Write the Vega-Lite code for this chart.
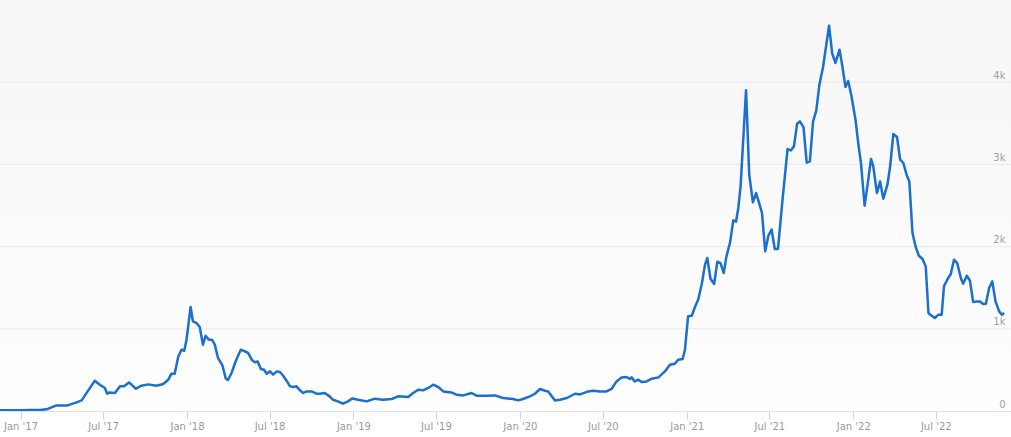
{
  "$schema": "https://vega.github.io/schema/vega-lite/v6.json",
  "width": 1011,
  "height": 411,
  "autosize": "none",
  "padding": {"left": 0, "top": 0, "right": 0, "bottom": 26},
  "background": "#ffffff",
  "config": {"view": {"stroke": null}, "font": "DejaVu Sans"},
  "layer": [
    {
      "data": {"values": [{}]},
      "mark": {"type": "rect", "color": {"gradient": "linear", "x1": 0, "y1": 0, "x2": 0, "y2": 1, "stops": [{"offset": 0, "color": "#f6f6f6"}, {"offset": 1, "color": "#fefefe"}]}},
      "encoding": {}
    },
    {
      "data": {"values": [{"level": 1000}, {"level": 2000}, {"level": 3000}, {"level": 4000}]},
      "mark": {"type": "rule", "color": "#e6e9ef", "strokeWidth": 1},
      "encoding": {
        "y": {"field": "level", "type": "quantitative", "axis": {"title": null}}
      }
    },
    {
      "data": {"values": [
        {"date": "2016-11-17", "price": 10},
        {"date": "2016-12-09", "price": 8},
        {"date": "2017-01-01", "price": 8},
        {"date": "2017-01-21", "price": 11},
        {"date": "2017-02-12", "price": 12},
        {"date": "2017-02-27", "price": 20},
        {"date": "2017-03-10", "price": 44},
        {"date": "2017-03-21", "price": 68},
        {"date": "2017-04-12", "price": 68},
        {"date": "2017-04-19", "price": 77},
        {"date": "2017-05-04", "price": 105},
        {"date": "2017-05-15", "price": 129},
        {"date": "2017-06-13", "price": 369},
        {"date": "2017-06-24", "price": 320},
        {"date": "2017-07-05", "price": 280},
        {"date": "2017-07-10", "price": 210},
        {"date": "2017-07-16", "price": 226},
        {"date": "2017-07-27", "price": 219},
        {"date": "2017-08-07", "price": 300},
        {"date": "2017-08-16", "price": 300},
        {"date": "2017-08-27", "price": 348},
        {"date": "2017-09-11", "price": 271},
        {"date": "2017-09-23", "price": 308},
        {"date": "2017-10-08", "price": 324},
        {"date": "2017-10-26", "price": 308},
        {"date": "2017-11-10", "price": 328},
        {"date": "2017-11-21", "price": 381},
        {"date": "2017-11-28", "price": 454},
        {"date": "2017-12-05", "price": 454},
        {"date": "2017-12-13", "price": 664},
        {"date": "2017-12-20", "price": 746},
        {"date": "2017-12-26", "price": 733},
        {"date": "2017-12-31", "price": 867},
        {"date": "2018-01-09", "price": 1265},
        {"date": "2018-01-14", "price": 1090},
        {"date": "2018-01-22", "price": 1070},
        {"date": "2018-01-29", "price": 1022},
        {"date": "2018-02-05", "price": 807},
        {"date": "2018-02-11", "price": 916},
        {"date": "2018-02-18", "price": 867},
        {"date": "2018-02-25", "price": 867},
        {"date": "2018-03-03", "price": 807},
        {"date": "2018-03-10", "price": 645},
        {"date": "2018-03-20", "price": 551},
        {"date": "2018-03-27", "price": 397},
        {"date": "2018-04-01", "price": 377},
        {"date": "2018-04-09", "price": 466},
        {"date": "2018-04-18", "price": 608},
        {"date": "2018-04-29", "price": 746},
        {"date": "2018-05-08", "price": 725},
        {"date": "2018-05-15", "price": 706},
        {"date": "2018-05-23", "price": 624},
        {"date": "2018-05-30", "price": 591},
        {"date": "2018-06-05", "price": 603},
        {"date": "2018-06-12", "price": 511},
        {"date": "2018-06-19", "price": 502},
        {"date": "2018-06-25", "price": 454},
        {"date": "2018-07-02", "price": 482},
        {"date": "2018-07-09", "price": 442},
        {"date": "2018-07-17", "price": 482},
        {"date": "2018-07-24", "price": 474},
        {"date": "2018-07-31", "price": 429},
        {"date": "2018-08-07", "price": 372},
        {"date": "2018-08-15", "price": 300},
        {"date": "2018-08-22", "price": 292},
        {"date": "2018-08-29", "price": 300},
        {"date": "2018-09-06", "price": 251},
        {"date": "2018-09-13", "price": 219},
        {"date": "2018-09-20", "price": 238},
        {"date": "2018-10-01", "price": 238},
        {"date": "2018-10-12", "price": 210},
        {"date": "2018-10-19", "price": 210},
        {"date": "2018-10-30", "price": 219},
        {"date": "2018-11-10", "price": 178},
        {"date": "2018-11-17", "price": 137},
        {"date": "2018-11-28", "price": 117},
        {"date": "2018-12-09", "price": 89},
        {"date": "2018-12-20", "price": 117},
        {"date": "2018-12-30", "price": 153},
        {"date": "2019-01-11", "price": 137},
        {"date": "2019-01-30", "price": 117},
        {"date": "2019-02-17", "price": 150},
        {"date": "2019-03-07", "price": 137},
        {"date": "2019-03-26", "price": 146},
        {"date": "2019-04-09", "price": 178},
        {"date": "2019-05-01", "price": 170},
        {"date": "2019-05-12", "price": 219},
        {"date": "2019-05-23", "price": 259},
        {"date": "2019-06-03", "price": 251},
        {"date": "2019-06-14", "price": 280},
        {"date": "2019-06-25", "price": 320},
        {"date": "2019-07-06", "price": 292},
        {"date": "2019-07-17", "price": 238},
        {"date": "2019-08-04", "price": 226},
        {"date": "2019-08-15", "price": 198},
        {"date": "2019-08-30", "price": 190},
        {"date": "2019-09-17", "price": 219},
        {"date": "2019-09-28", "price": 186},
        {"date": "2019-10-20", "price": 186},
        {"date": "2019-11-07", "price": 190},
        {"date": "2019-11-25", "price": 158},
        {"date": "2019-12-17", "price": 146},
        {"date": "2019-12-28", "price": 129},
        {"date": "2020-01-08", "price": 146},
        {"date": "2020-01-23", "price": 178},
        {"date": "2020-02-03", "price": 210},
        {"date": "2020-02-14", "price": 268},
        {"date": "2020-02-25", "price": 247},
        {"date": "2020-03-03", "price": 238},
        {"date": "2020-03-11", "price": 178},
        {"date": "2020-03-18", "price": 129},
        {"date": "2020-03-29", "price": 137},
        {"date": "2020-04-13", "price": 158},
        {"date": "2020-05-01", "price": 210},
        {"date": "2020-05-12", "price": 202},
        {"date": "2020-05-30", "price": 238},
        {"date": "2020-06-10", "price": 247},
        {"date": "2020-06-25", "price": 238},
        {"date": "2020-07-09", "price": 238},
        {"date": "2020-07-20", "price": 268},
        {"date": "2020-07-31", "price": 360},
        {"date": "2020-08-11", "price": 409},
        {"date": "2020-08-22", "price": 414},
        {"date": "2020-08-29", "price": 389},
        {"date": "2020-09-02", "price": 409},
        {"date": "2020-09-09", "price": 360},
        {"date": "2020-09-17", "price": 381},
        {"date": "2020-09-24", "price": 353},
        {"date": "2020-10-05", "price": 360},
        {"date": "2020-10-16", "price": 393},
        {"date": "2020-10-31", "price": 409},
        {"date": "2020-11-14", "price": 482},
        {"date": "2020-11-25", "price": 563},
        {"date": "2020-12-06", "price": 575},
        {"date": "2020-12-13", "price": 624},
        {"date": "2020-12-23", "price": 633},
        {"date": "2020-12-28", "price": 746},
        {"date": "2021-01-04", "price": 1153},
        {"date": "2021-01-12", "price": 1159},
        {"date": "2021-01-19", "price": 1265},
        {"date": "2021-01-26", "price": 1354},
        {"date": "2021-02-03", "price": 1549},
        {"date": "2021-02-10", "price": 1780},
        {"date": "2021-02-15", "price": 1861},
        {"date": "2021-02-22", "price": 1609},
        {"date": "2021-03-02", "price": 1545},
        {"date": "2021-03-09", "price": 1816},
        {"date": "2021-03-16", "price": 1800},
        {"date": "2021-03-23", "price": 1679},
        {"date": "2021-03-29", "price": 1881},
        {"date": "2021-04-06", "price": 2051},
        {"date": "2021-04-13", "price": 2319},
        {"date": "2021-04-19", "price": 2303},
        {"date": "2021-04-24", "price": 2470},
        {"date": "2021-04-29", "price": 2732},
        {"date": "2021-05-04", "price": 3219},
        {"date": "2021-05-11", "price": 3903},
        {"date": "2021-05-18", "price": 2875},
        {"date": "2021-05-26", "price": 2538},
        {"date": "2021-06-02", "price": 2652},
        {"date": "2021-06-09", "price": 2522},
        {"date": "2021-06-15", "price": 2409},
        {"date": "2021-06-22", "price": 1942},
        {"date": "2021-06-29", "price": 2133},
        {"date": "2021-07-06", "price": 2206},
        {"date": "2021-07-13", "price": 1971},
        {"date": "2021-07-20", "price": 1971},
        {"date": "2021-07-30", "price": 2571},
        {"date": "2021-08-10", "price": 3187},
        {"date": "2021-08-17", "price": 3170},
        {"date": "2021-08-24", "price": 3219},
        {"date": "2021-08-31", "price": 3495},
        {"date": "2021-09-06", "price": 3523},
        {"date": "2021-09-14", "price": 3453},
        {"date": "2021-09-21", "price": 3021},
        {"date": "2021-09-28", "price": 3036},
        {"date": "2021-10-05", "price": 3523},
        {"date": "2021-10-12", "price": 3653},
        {"date": "2021-10-19", "price": 3976},
        {"date": "2021-10-27", "price": 4189},
        {"date": "2021-11-09", "price": 4687},
        {"date": "2021-11-16", "price": 4347},
        {"date": "2021-11-23", "price": 4234},
        {"date": "2021-12-02", "price": 4395},
        {"date": "2021-12-08", "price": 4201},
        {"date": "2021-12-15", "price": 3942},
        {"date": "2021-12-21", "price": 4015},
        {"date": "2021-12-28", "price": 3836},
        {"date": "2022-01-06", "price": 3544},
        {"date": "2022-01-12", "price": 3260},
        {"date": "2022-01-18", "price": 3017},
        {"date": "2022-01-26", "price": 2498},
        {"date": "2022-02-01", "price": 2732},
        {"date": "2022-02-09", "price": 3066},
        {"date": "2022-02-14", "price": 2976},
        {"date": "2022-02-22", "price": 2652},
        {"date": "2022-03-01", "price": 2793},
        {"date": "2022-03-08", "price": 2583},
        {"date": "2022-03-17", "price": 2753},
        {"date": "2022-03-23", "price": 2976},
        {"date": "2022-03-30", "price": 3370},
        {"date": "2022-04-07", "price": 3333},
        {"date": "2022-04-14", "price": 3057},
        {"date": "2022-04-21", "price": 3017},
        {"date": "2022-04-28", "price": 2875},
        {"date": "2022-05-04", "price": 2793},
        {"date": "2022-05-11", "price": 2165},
        {"date": "2022-05-18", "price": 1995},
        {"date": "2022-05-25", "price": 1889},
        {"date": "2022-06-02", "price": 1849},
        {"date": "2022-06-09", "price": 1759},
        {"date": "2022-06-15", "price": 1192},
        {"date": "2022-06-22", "price": 1159},
        {"date": "2022-06-29", "price": 1131},
        {"date": "2022-07-07", "price": 1172},
        {"date": "2022-07-14", "price": 1172},
        {"date": "2022-07-19", "price": 1516},
        {"date": "2022-07-27", "price": 1606},
        {"date": "2022-08-03", "price": 1667},
        {"date": "2022-08-10", "price": 1841},
        {"date": "2022-08-17", "price": 1800},
        {"date": "2022-08-25", "price": 1618},
        {"date": "2022-08-30", "price": 1549},
        {"date": "2022-09-07", "price": 1646},
        {"date": "2022-09-14", "price": 1585},
        {"date": "2022-09-21", "price": 1326},
        {"date": "2022-09-29", "price": 1333},
        {"date": "2022-10-06", "price": 1333},
        {"date": "2022-10-13", "price": 1302},
        {"date": "2022-10-19", "price": 1305},
        {"date": "2022-10-26", "price": 1496},
        {"date": "2022-11-02", "price": 1577},
        {"date": "2022-11-09", "price": 1333},
        {"date": "2022-11-17", "price": 1212},
        {"date": "2022-11-23", "price": 1172},
        {"date": "2022-11-28", "price": 1192}
      ]},
      "mark": {"type": "line", "color": "#1a6fcf", "strokeWidth": 2.5, "strokeJoin": "round", "clip": true},
      "encoding": {
        "x": {
          "field": "date",
          "type": "temporal",
          "scale": {"type": "utc", "domain": [{"year": 2016, "month": 11, "date": 17, "utc": true}, {"year": 2022, "month": 12, "date": 13, "utc": true}]},
          "axis": {
            "title": null,
            "zindex": 1,
            "values": [
              {"year": 2017, "month": 1, "date": 1, "utc": true},
              {"year": 2017, "month": 7, "date": 1, "utc": true},
              {"year": 2018, "month": 1, "date": 1, "utc": true},
              {"year": 2018, "month": 7, "date": 1, "utc": true},
              {"year": 2019, "month": 1, "date": 1, "utc": true},
              {"year": 2019, "month": 7, "date": 1, "utc": true},
              {"year": 2020, "month": 1, "date": 1, "utc": true},
              {"year": 2020, "month": 7, "date": 1, "utc": true},
              {"year": 2021, "month": 1, "date": 1, "utc": true},
              {"year": 2021, "month": 7, "date": 1, "utc": true},
              {"year": 2022, "month": 1, "date": 1, "utc": true},
              {"year": 2022, "month": 7, "date": 1, "utc": true}
            ],
            "labelExpr": "utcFormat(datum.value, \"%b '%y\")",
            "grid": false,
            "domain": true,
            "domainColor": "#dfe3ea",
            "ticks": true,
            "tickColor": "#ccd6eb",
            "tickWidth": 1,
            "tickSize": 8,
            "labelPadding": 2,
            "labelColor": "#9a9a9a",
            "labelFontSize": 10,
            "labelFont": "DejaVu Sans",
            "labelFlush": false,
            "labelOverlap": false
          }
        },
        "y": {
          "field": "price",
          "type": "quantitative",
          "scale": {"domain": [0, 5000], "nice": false, "zero": true},
          "axis": {
            "title": null,
            "zindex": 1,
            "orient": "right",
            "values": [0, 1000, 2000, 3000, 4000],
            "labelExpr": "datum.value == 0 ? '0' : (datum.value / 1000) + 'k'",
            "domain": false,
            "ticks": false,
            "tickSize": 0,
            "grid": false,
            "labelAlign": "right",
            "labelBaseline": "bottom",
            "labelPadding": -6,
            "labelOffset": -2,
            "labelColor": "#a0a0a0",
            "labelFontSize": 10,
            "labelFont": "DejaVu Sans",
            "labelFlush": false
          }
        }
      }
    }
  ]
}
